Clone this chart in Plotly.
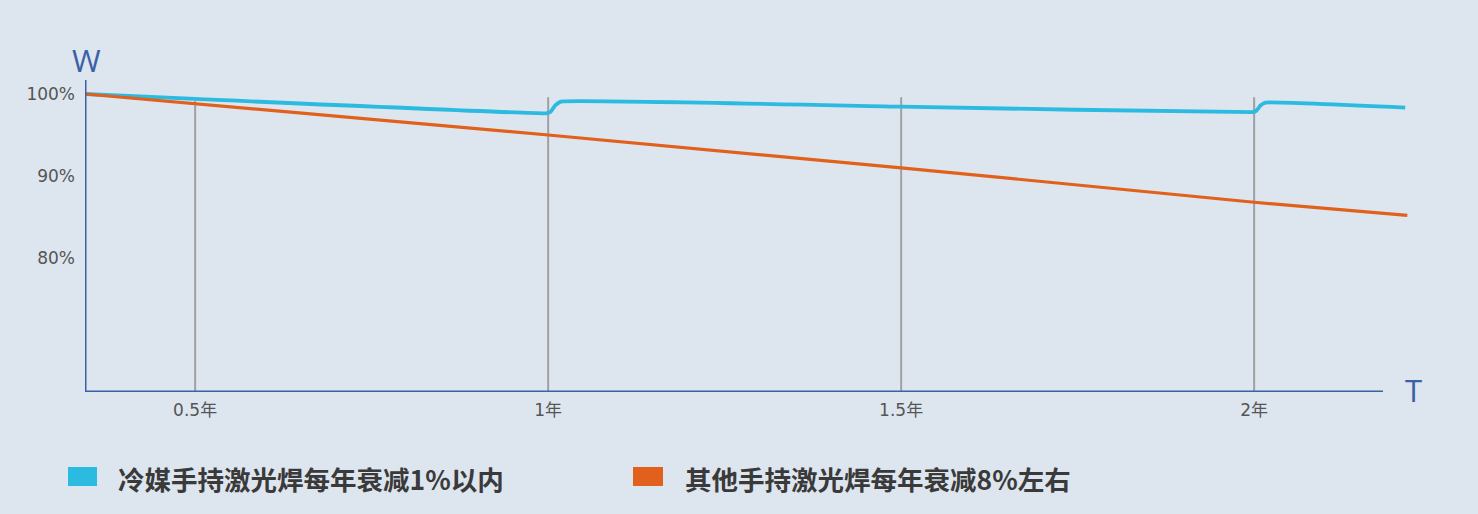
import plotly.graph_objects as go

# ---- data ----
cold_x = [0.344, 0.5, 0.997, 1.003, 1.010, 1.018, 1.5, 1.997, 2.003, 2.009, 2.016, 2.214]
cold_y = [100.0, 99.4, 97.65, 97.8, 98.6, 99.07, 98.45, 97.8, 97.95, 98.6, 98.95, 98.34]
other_x = [0.344, 0.5, 1.0, 1.5, 2.0, 2.217]
other_y = [100.0, 98.8, 95.0, 91.0, 86.8, 85.2]
x_ticks = [0.5, 1.0, 1.5, 2.0]
x_ticklabels = ["0.5年", "1年", "1.5年", "2年"]
y_ticks = [100, 90, 80]
y_ticklabels = ["100%", "90%", "80%"]
grid_tops = [99.2, 99.6, 99.6, 99.6]
legend_names = ["冷媒手持激光焊每年衰减1%以内", "其他手持激光焊每年衰减8%左右"]

BLUE = "#2bbbe0"
ORANGE = "#e0601c"
AXIS = "#3a60a8"
BG = "#dde5ef"

W_PX, H_PX = 1478, 514
L, R, T, B = 85, 38, 40, 122
PW, PH = W_PX - L - R, H_PX - T - B
X0 = 0.344
PX_PER_X = 706.0
Y0 = 63.66
PX_PER_Y = 8.2
x_range = [X0, X0 + PW / PX_PER_X]
y_range = [Y0, Y0 + PH / PX_PER_Y]

def px2paper_x(px):
    return (px - L) / PW

def px2paper_y(py):
    return (H_PX - B - py) / PH

fig = go.Figure()
fig.add_trace(go.Scatter(x=cold_x, y=cold_y, mode="lines", name=legend_names[0],
                         line=dict(color=BLUE, width=3.8, shape="spline", smoothing=0.3),
                         showlegend=False))
fig.add_trace(go.Scatter(x=other_x, y=other_y, mode="lines", name=legend_names[1],
                         line=dict(color=ORANGE, width=3.2),
                         showlegend=False))

shapes = []
for gx, gt in zip(x_ticks, grid_tops):
    shapes.append(dict(type="line", xref="x", yref="y", x0=gx, x1=gx, y0=Y0, y1=gt,
                       line=dict(color="#a0a0a0", width=2), layer="below"))
# axes
shapes.append(dict(type="line", xref="x", yref="paper", x0=X0, x1=X0,
                   y0=0, y1=px2paper_y(80), line=dict(color=AXIS, width=3)))
shapes.append(dict(type="line", xref="paper", yref="y", x0=0, x1=px2paper_x(1383),
                   y0=Y0, y1=Y0, line=dict(color=AXIS, width=3)))
# legend swatches
for (x0p, x1p), col in zip([(68, 97), (633, 663)], [BLUE, ORANGE]):
    shapes.append(dict(type="rect", xref="paper", yref="paper",
                       x0=px2paper_x(x0p), x1=px2paper_x(x1p),
                       y0=px2paper_y(486), y1=px2paper_y(467),
                       fillcolor=col, line=dict(width=0)))

annotations = [
    dict(text="W", xref="paper", yref="paper", x=px2paper_x(86), y=px2paper_y(60),
         showarrow=False, xanchor="center", yanchor="middle",
         font=dict(size=31, color=AXIS, family="Open Sans")),
    dict(text="T", xref="paper", yref="paper", x=px2paper_x(1413), y=px2paper_y(390),
         showarrow=False, xanchor="center", yanchor="middle",
         font=dict(size=31, color=AXIS, family="Open Sans")),
]
for name, xp in zip(legend_names, [116, 683]):
    annotations.append(dict(text="<b>" + name + "</b>", xref="paper", yref="paper",
                            x=px2paper_x(xp), y=px2paper_y(478), showarrow=False,
                            xanchor="left", yanchor="middle",
                            font=dict(size=26.5, color="#3a3a3a", family="Noto Sans CJK SC")))

fig.update_layout(
    width=W_PX, height=H_PX,
    margin=dict(l=L, r=R, t=T, b=B),
    paper_bgcolor=BG, plot_bgcolor=BG,
    shapes=shapes, annotations=annotations,
    xaxis=dict(range=x_range, tickvals=x_ticks, ticktext=x_ticklabels,
               showgrid=False, zeroline=False, showline=False, ticks="",
               ticklabelstandoff=6,
               tickfont=dict(size=17, color="#555555", family="DejaVu Sans, Noto Sans CJK SC")),
    yaxis=dict(range=y_range, tickvals=y_ticks, ticktext=y_ticklabels,
               showgrid=False, zeroline=False, showline=False, ticks="",
               ticklabelstandoff=9,
               tickfont=dict(size=17, color="#555555", family="DejaVu Sans")),
)

fig.write_html("out.html", config={"displayModeBar": False},
               post_script="document.body.style.margin='0';")
